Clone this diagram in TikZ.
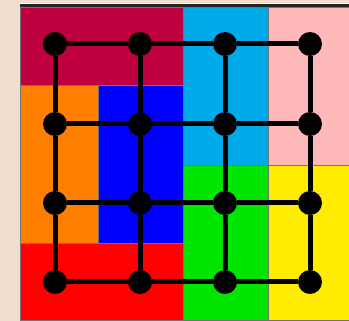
\documentclass[tikz,border=0pt]{standalone}
\definecolor{bgbeige}{RGB}{242,222,206}
\definecolor{cCrimson}{RGB}{191,0,64}
\definecolor{cCyan}{RGB}{0,170,232}
\definecolor{cPink}{RGB}{255,184,184}
\definecolor{cOrange}{RGB}{255,128,0}
\definecolor{cBlue}{RGB}{0,0,255}
\definecolor{cRed}{RGB}{255,0,0}
\definecolor{cGreen}{RGB}{0,230,0}
\definecolor{cYellow}{RGB}{255,236,0}
\tikzset{
  region/.style={draw=black!55,line width=0.5pt},
  vtx/.style={circle,fill=black,inner sep=0pt,minimum size=24pt},
  link/.style={line width=5pt,black}
}
\begin{document}
\begin{tikzpicture}[x=1pt,y=-1pt]
\useasboundingbox (0,0) rectangle (349,321);
\fill[bgbeige] (0,0) rectangle (349,321);
% top border lines
\fill[white] (20,3) rectangle (349,4);
\fill[black!85] (20,4) rectangle (349,7);
% regions
\filldraw[region,fill=cCrimson] (20,7) rectangle (183,85);
\filldraw[region,fill=cCyan] (183,7) rectangle (268,165);
\filldraw[region,fill=cPink] (268,7) rectangle (350,165);
\filldraw[region,fill=cOrange] (20,85) rectangle (98,243);
\filldraw[region,fill=cBlue] (98,85) rectangle (183,243);
\filldraw[region,fill=cRed] (20,243) rectangle (183,320);
\filldraw[region,fill=cGreen] (183,165) rectangle (268,320);
\filldraw[region,fill=cYellow] (268,165) rectangle (350,320);
% nodes
\foreach \i/\x in {1/55,2/140,3/225,4/310}{
  \foreach \j/\y in {1/44,2/124,3/203,4/282}{
    \node[vtx] (n\i\j) at (\x,\y) {};
  }
}
% edges
\foreach \i in {1,2,3,4}{
  \draw[link] (n\i1) -- (n\i2) -- (n\i3) -- (n\i4);
  \draw[link] (n1\i) -- (n2\i) -- (n3\i) -- (n4\i);
}
\end{tikzpicture}
\end{document}
